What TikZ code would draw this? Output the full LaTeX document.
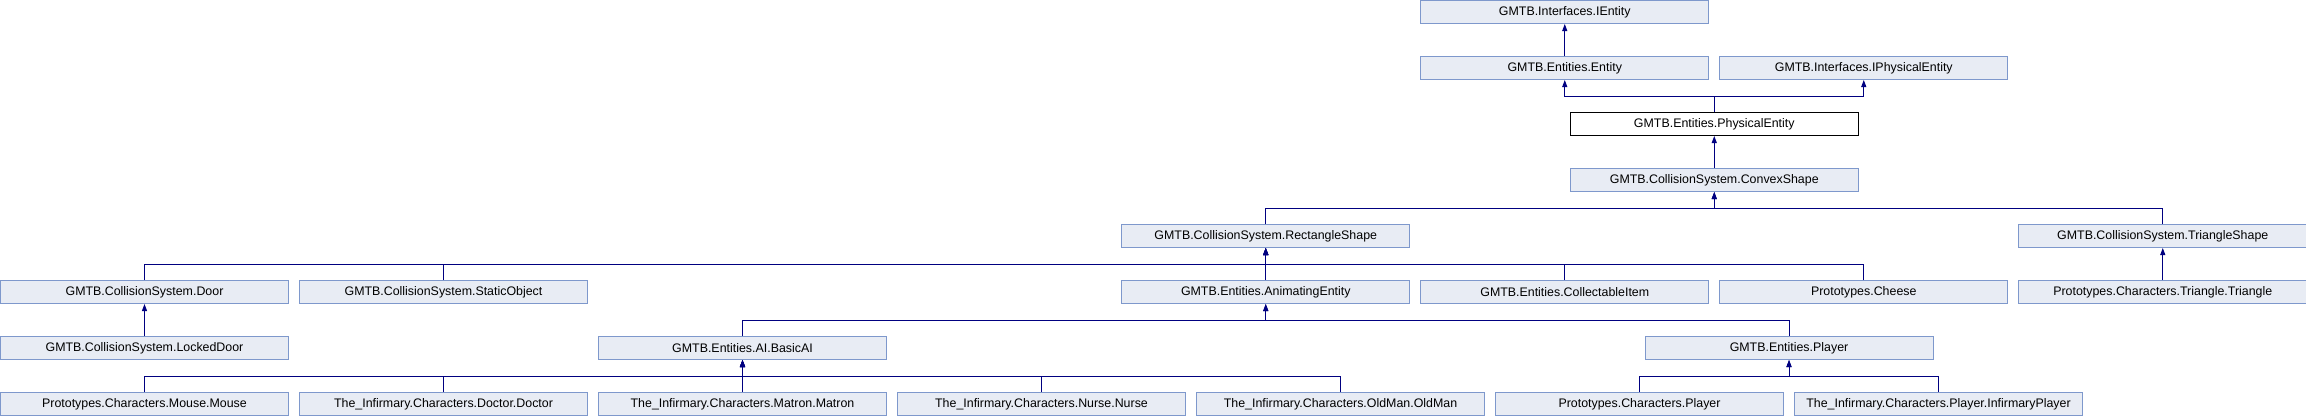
\documentclass[tikz,border=0pt]{standalone}
\usepackage{fontspec}
\setmainfont{Liberation Sans}
\usetikzlibrary{arrows.meta}
\definecolor{boxfill}{HTML}{E8ECF4}
\definecolor{boxline}{HTML}{7E98CC}
\definecolor{linkblue}{HTML}{000080}
\tikzset{
    cls/.style={draw=boxline, fill=boxfill, line width=1pt, anchor=north west,
        minimum width=288pt, minimum height=23pt, inner sep=0pt,
        font=\fontsize{12.4}{14}\selectfont},
    current/.style={cls, draw=black, fill=white},
    inh/.style={draw=linkblue, line width=1pt, -{Triangle[width=5pt,length=7pt]}}
}
\begin{document}
\begin{tikzpicture}[x=1pt,y=-1pt]
    \useasboundingbox (0,0) rectangle (2306,416);
    \pgfmathsetmacro{\colw}{299}
    % upper part of the tree
    \node[cls] (ientity) at ({4.75*\colw},0) {GMTB.Interfaces.IEntity};
    \node[cls] (entity) at ({4.75*\colw},56) {GMTB.Entities.Entity};
    \node[cls] (iphys) at ({5.75*\colw},56) {GMTB.Interfaces.IPhysicalEntity};
    \node[current] (phys) at ({5.25*\colw},112) {GMTB.Entities.PhysicalEntity};
    \node[cls] (convex) at ({5.25*\colw},168) {GMTB.CollisionSystem.ConvexShape};
    \node[cls] (rect) at ({3.75*\colw},224) {GMTB.CollisionSystem.RectangleShape};
    \node[cls] (tri) at ({6.75*\colw},224) {GMTB.CollisionSystem.TriangleShape};
    % row 5
    \node[cls] (door) at (0,280) {GMTB.CollisionSystem.Door};
    \node[cls] (static) at (\colw,280) {GMTB.CollisionSystem.StaticObject};
    \node[cls] (anim) at ({3.75*\colw},280) {GMTB.Entities.AnimatingEntity};
    \node[cls] (collect) at ({4.75*\colw},280) {GMTB.Entities.CollectableItem};
    \node[cls] (cheese) at ({5.75*\colw},280) {Prototypes.Cheese};
    \node[cls] (triangle) at ({6.75*\colw},280) {Prototypes.Characters.Triangle.Triangle};
    % row 6
    \node[cls] (locked) at (0,336) {GMTB.CollisionSystem.LockedDoor};
    \node[cls] (basicai) at ({2*\colw},336) {GMTB.Entities.AI.BasicAI};
    \node[cls] (player) at ({5.5*\colw},336) {GMTB.Entities.Player};
    % bottom row
    \foreach \name/\col/\txt in {mouse/0/Prototypes.Characters.Mouse.Mouse,
        doctor/1/The\_Infirmary.Characters.Doctor.Doctor,
        matron/2/The\_Infirmary.Characters.Matron.Matron,
        nurse/3/The\_Infirmary.Characters.Nurse.Nurse,
        oldman/4/The\_Infirmary.Characters.OldMan.OldMan,
        protoplayer/5/Prototypes.Characters.Player,
        infplayer/6/The\_Infirmary.Characters.Player.InfirmaryPlayer}{
        \node[cls] (\name) at ({\col*\colw},392) {\txt};
    }

    % inheritance links
    \draw[inh] (entity.north) -- (ientity.south);
    \foreach \p in {entity,iphys}
        \draw[inh] (phys.north) -- ++(0,-16) -| (\p.south);
    \draw[inh] (convex.north) -- (phys.south);
    \foreach \c in {rect,tri}
        \draw[inh] (\c.north) -- ++(0,-16) -| (convex.south);
    \foreach \c in {door,static,anim,collect,cheese}
        \draw[inh] (\c.north) -- ++(0,-16) -| (rect.south);
    \draw[inh] (triangle.north) -- (tri.south);
    \draw[inh] (locked.north) -- (door.south);
    \foreach \c in {basicai,player}
        \draw[inh] (\c.north) -- ++(0,-16) -| (anim.south);
    \foreach \c in {mouse,doctor,matron,nurse,oldman}
        \draw[inh] (\c.north) -- ++(0,-16) -| (basicai.south);
    \foreach \c in {protoplayer,infplayer}
        \draw[inh] (\c.north) -- ++(0,-16) -| (player.south);
\end{tikzpicture}
\end{document}
